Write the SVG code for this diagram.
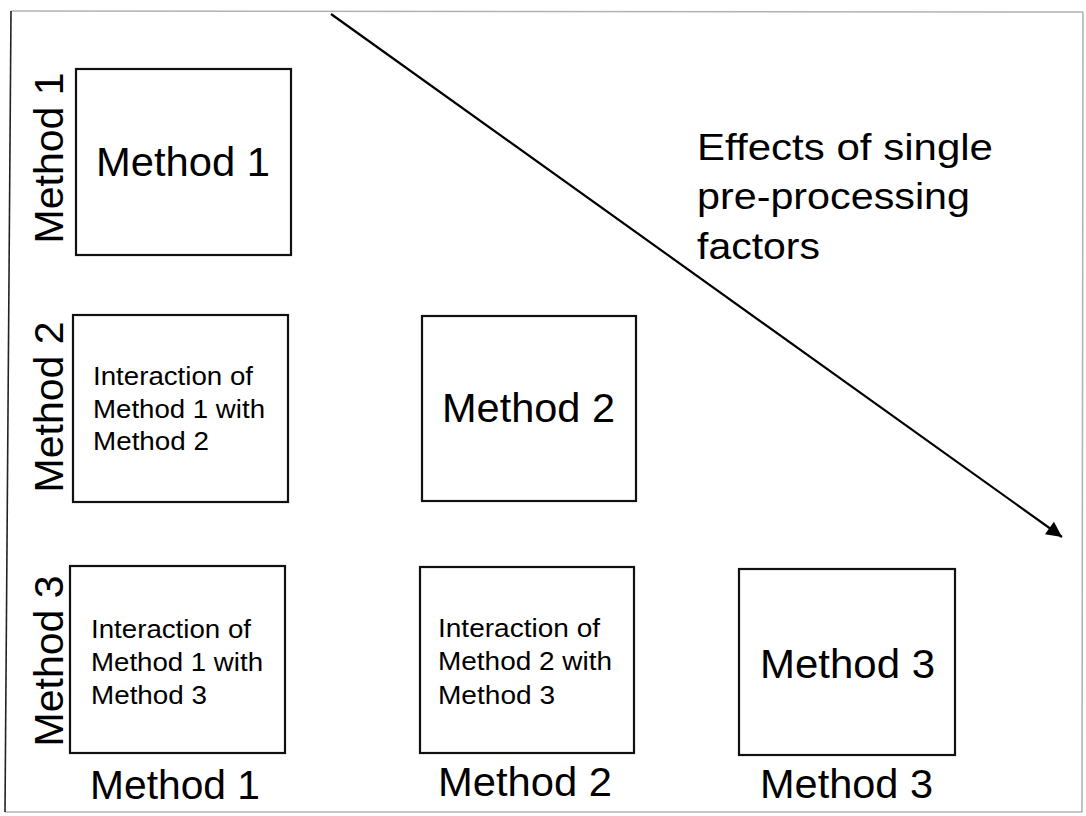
<svg xmlns="http://www.w3.org/2000/svg" width="1086" height="816" viewBox="0 0 1086 816">
  <defs>
    <marker id="arrowhead" viewBox="0 0 10 10" refX="10" refY="5" markerWidth="9" markerHeight="7" markerUnits="strokeWidth" orient="auto">
      <path d="M0,0 L10,5 L0,10 z" fill="#000"/>
    </marker>
  </defs>
  <style>
    .box { fill: #fff; stroke: #111; stroke-width: 2.2; }
    .big { font-family: "Liberation Sans", Arial, sans-serif; font-size: 41px; fill: #000; }
    .small { font-family: "Liberation Sans", Arial, sans-serif; font-size: 25px; fill: #000; }
    .note { font-family: "Liberation Sans", Arial, sans-serif; font-size: 37px; fill: #000; }
    .frame { fill: none; stroke: #222; stroke-width: 1.6; }
  </style>
  <rect width="1086" height="816" fill="#fff"/>

  <!-- outer frame -->
  <path class="frame" d="M11,11 L1083,12 M1083,12 L1082,812" stroke-opacity="0.35"/>
  <path class="frame" d="M11,11 L5,812"/>
  <path class="frame" d="M5,812 L1082,812" stroke-opacity="0.35"/>

  <!-- connector -->
  <g id="connectors">
    <line x1="331" y1="14" x2="1062" y2="537" stroke="#000" stroke-width="2.2" marker-end="url(#arrowhead)"/>
  </g>

  <g id="note-effects">
    <text class="note" x="697" y="160" textLength="296" lengthAdjust="spacingAndGlyphs">Effects of single</text>
    <text class="note" x="697" y="209" textLength="273" lengthAdjust="spacingAndGlyphs">pre-processing</text>
    <text class="note" x="697" y="259" textLength="123" lengthAdjust="spacingAndGlyphs">factors</text>
  </g>

  <!-- row labels -->
  <g id="row-label-1"><text class="big" x="63" y="158" text-anchor="middle" transform="rotate(-90 63 158)">Method 1</text></g>
  <g id="row-label-2"><text class="big" x="63" y="407" text-anchor="middle" transform="rotate(-90 63 407)">Method 2</text></g>
  <g id="row-label-3"><text class="big" x="63" y="661" text-anchor="middle" transform="rotate(-90 63 661)">Method 3</text></g>

  <!-- column labels -->
  <g id="col-label-1"><text class="big" x="90" y="799" textLength="170" lengthAdjust="spacingAndGlyphs">Method 1</text></g>
  <g id="col-label-2"><text class="big" x="438" y="796" textLength="174" lengthAdjust="spacingAndGlyphs">Method 2</text></g>
  <g id="col-label-3"><text class="big" x="760" y="798" textLength="173" lengthAdjust="spacingAndGlyphs">Method 3</text></g>

  <!-- diagonal: single methods -->
  <g id="box-m1">
    <rect class="box" x="76" y="69" width="215" height="186"/>
    <text class="big" x="96" y="176" textLength="174" lengthAdjust="spacingAndGlyphs">Method 1</text>
  </g>
  <g id="box-m2">
    <rect class="box" x="422" y="316" width="214" height="185"/>
    <text class="big" x="442" y="422" textLength="173" lengthAdjust="spacingAndGlyphs">Method 2</text>
  </g>
  <g id="box-m3">
    <rect class="box" x="739" y="569" width="216" height="186"/>
    <text class="big" x="760" y="678" textLength="175" lengthAdjust="spacingAndGlyphs">Method 3</text>
  </g>

  <!-- interactions -->
  <g id="box-m1-m2">
    <rect class="box" x="73" y="315" width="215" height="187"/>
    <text class="small" x="93" y="385" textLength="160" lengthAdjust="spacingAndGlyphs">Interaction of</text>
    <text class="small" x="93" y="418" textLength="172" lengthAdjust="spacingAndGlyphs">Method 1 with</text>
    <text class="small" x="93" y="450" textLength="116" lengthAdjust="spacingAndGlyphs">Method 2</text>
  </g>
  <g id="box-m1-m3">
    <rect class="box" x="70" y="566" width="215" height="187"/>
    <text class="small" x="91" y="638" textLength="160" lengthAdjust="spacingAndGlyphs">Interaction of</text>
    <text class="small" x="91" y="671" textLength="172" lengthAdjust="spacingAndGlyphs">Method 1 with</text>
    <text class="small" x="91" y="704" textLength="116" lengthAdjust="spacingAndGlyphs">Method 3</text>
  </g>
  <g id="box-m2-m3">
    <rect class="box" x="420" y="567" width="214" height="186"/>
    <text class="small" x="438" y="637" textLength="162" lengthAdjust="spacingAndGlyphs">Interaction of</text>
    <text class="small" x="438" y="670" textLength="174" lengthAdjust="spacingAndGlyphs">Method 2 with</text>
    <text class="small" x="438" y="704" textLength="117" lengthAdjust="spacingAndGlyphs">Method 3</text>
  </g>
</svg>
